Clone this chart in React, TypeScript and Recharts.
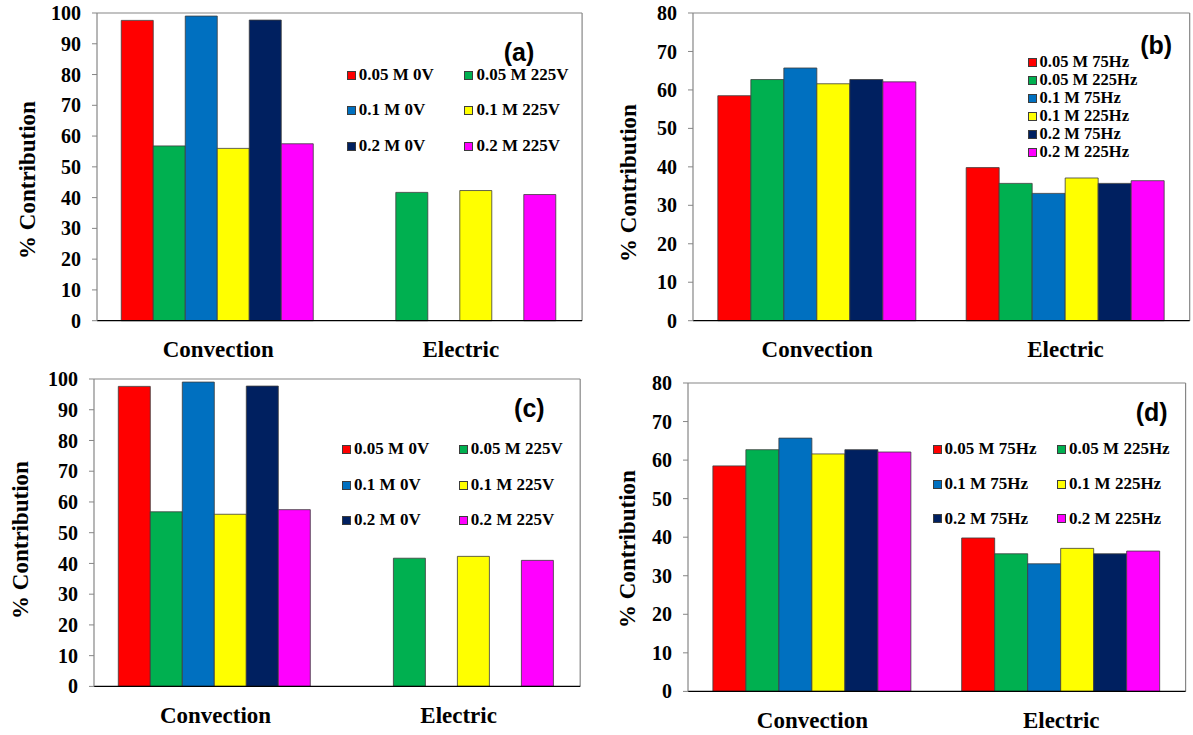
import React from "react";
import { BarChart, Bar, XAxis, YAxis, CartesianGrid } from "recharts";

// categories and series
const categories = ["Convection", "Electric"];
const voltageSeries = ["0.05 M 0V", "0.05 M 225V", "0.1 M 0V", "0.1 M 225V", "0.2 M 0V", "0.2 M 225V"];
const frequencySeries = ["0.05 M 75Hz", "0.05 M 225Hz", "0.1 M 75Hz", "0.1 M 225Hz", "0.2 M 75Hz", "0.2 M 225Hz"];
const seriesColors = ["#FF0000", "#00B050", "#0070C0", "#FFFF00", "#002060", "#FF00FF"];

// % contribution values (null = no bar)
const voltageConvection = [97.6, 56.8, 99.0, 56.0, 97.7, 57.5];
const voltageElectric = [null, 41.7, null, 42.3, null, 41.0];
const frequencyConvection = [58.5, 62.7, 65.7, 61.6, 62.7, 62.1];
const frequencyElectric = [39.8, 35.7, 33.1, 37.1, 35.7, 36.4];

const voltageTicks = [0, 10, 20, 30, 40, 50, 60, 70, 80, 90, 100];
const frequencyTicks = [0, 10, 20, 30, 40, 50, 60, 70, 80];

const SERIF = "'Liberation Serif', 'Times New Roman', serif";
const SANS = "'Liberation Sans', Arial, sans-serif";
const AXIS_GRAY = "#868686";

const buildRows = (conv: (number | null)[], elec: (number | null)[]) =>
  categories.map((category, ci) => {
    const row: Record<string, string | number | null> = { category };
    const values = ci === 0 ? conv : elec;
    values.forEach((v, i) => {
      row["s" + i] = v;
    });
    return row;
  });

type Panel = {
  tag: string;
  names: string[];
  rows: Record<string, string | number | null>[];
  ticks: number[];
  plot: { left: number; top: number; right: number; bottom: number };
  legendCols: number[];
  legendRows: number[];
  legendSize: number;
  tagPos: { x: number; y: number };
  titlePos: { x: number; y: number };
};

const panels: Panel[] = [
  {
    tag: "(a)",
    names: voltageSeries,
    rows: buildRows(voltageConvection, voltageElectric),
    ticks: voltageTicks,
    plot: { left: 96.7, top: 13.3, right: 581.8, bottom: 321 },
    legendCols: [346.7, 464.4],
    legendRows: [75, 110, 146],
    legendSize: 17,
    tagPos: { x: 503.8, y: 52 },
    titlePos: { x: 26.8, y: 180 },
  },
  {
    tag: "(b)",
    names: frequencySeries,
    rows: buildRows(frequencyConvection, frequencyElectric),
    ticks: frequencyTicks,
    plot: { left: 693.3, top: 13.3, right: 1190, bottom: 321 },
    legendCols: [1027.6],
    legendRows: [62, 80, 98, 116, 134, 152],
    legendSize: 16.5,
    tagPos: { x: 1140.2, y: 45 },
    titlePos: { x: 628.3, y: 182.5 },
  },
  {
    tag: "(c)",
    names: voltageSeries,
    rows: buildRows(voltageConvection, voltageElectric),
    ticks: voltageTicks,
    plot: { left: 93.7, top: 379.3, right: 579.9, bottom: 686.7 },
    legendCols: [342.1, 458.7],
    legendRows: [449.3, 485, 520.3],
    legendSize: 17,
    tagPos: { x: 514.1, y: 407.7 },
    titlePos: { x: 20.1, y: 540 },
  },
  {
    tag: "(d)",
    names: frequencySeries,
    rows: buildRows(frequencyConvection, frequencyElectric),
    ticks: frequencyTicks,
    plot: { left: 688, top: 383.3, right: 1185.6, bottom: 691.7 },
    legendCols: [932.5, 1057.1],
    legendRows: [449.3, 484, 518.7],
    legendSize: 17,
    tagPos: { x: 1135.7, y: 411.7 },
    titlePos: { x: 627.4, y: 549 },
  },
];

const Y_W = 60;
const M_TOP = 10;
const M_RIGHT = 4;
const X_H = 45;

const ChartPanel = ({ p }: { p: Panel }) => {
  const plotW = p.plot.right - p.plot.left;
  const plotH = p.plot.bottom - p.plot.top;
  const w = plotW + Y_W + M_RIGHT;
  const h = plotH + M_TOP + X_H;
  const max = p.ticks[p.ticks.length - 1];

  return (
    <>
      <div style={{ position: "absolute", left: p.plot.left - Y_W, top: p.plot.top - M_TOP }}>
        <BarChart
          width={w}
          height={h}
          data={p.rows}
          margin={{ top: M_TOP, right: M_RIGHT, bottom: 0, left: 0 }}
          barCategoryGap="10%"
          barGap={0}
        >
          {/* plot-area frame: top and right edges */}
          <CartesianGrid
            stroke={AXIS_GRAY}
            strokeWidth={1.2}
            horizontalCoordinatesGenerator={({ offset }: any) => [offset.top]}
            verticalCoordinatesGenerator={({ offset }: any) => [offset.left + offset.width]}
          />
          <XAxis
            dataKey="category"
            height={X_H}
            interval={0}
            tickLine={false}
            tickSize={0}
            tickMargin={20}
            axisLine={{ stroke: "#000", strokeWidth: 1.2 }}
            tick={{ fill: "#000", fontFamily: SERIF, fontWeight: "bold", fontSize: 23 }}
          />
          <YAxis
            width={Y_W}
            domain={[0, max]}
            ticks={p.ticks}
            interval={0}
            tickSize={5}
            tickMargin={11}
            axisLine={{ stroke: AXIS_GRAY, strokeWidth: 1.2 }}
            tickLine={{ stroke: AXIS_GRAY }}
            tick={{ fill: "#000", fontFamily: SERIF, fontWeight: "bold", fontSize: 20 }}
          />
          {/* inner half of the cross tick marks */}
          <YAxis
            yAxisId="inner"
            mirror
            domain={[0, max]}
            ticks={p.ticks}
            interval={0}
            tickSize={5}
            tick={false}
            axisLine={false}
            tickLine={{ stroke: AXIS_GRAY }}
          />
          {p.names.map((name, i) => (
            <Bar
              key={name}
              dataKey={"s" + i}
              name={name}
              fill={seriesColors[i]}
              stroke="#3c3c3c"
              strokeWidth={0.8}
              isAnimationActive={false}
            />
          ))}
        </BarChart>
      </div>

      {/* legend */}
      {p.names.map((name, i) => {
        const col = i % p.legendCols.length;
        const row = Math.floor(i / p.legendCols.length);
        return (
          <div
            key={name}
            style={{
              position: "absolute",
              left: p.legendCols[col],
              top: p.legendRows[row] - 9,
              height: 18,
              display: "flex",
              alignItems: "center",
              whiteSpace: "nowrap",
              fontFamily: SERIF,
              fontWeight: "bold",
              fontSize: p.legendSize,
              color: "#000",
            }}
          >
            <span
              style={{
                display: "inline-block",
                width: 9,
                height: 9,
                boxSizing: "border-box",
                background: seriesColors[i],
                border: "1px solid #3c3c3c",
                marginRight: 3,
              }}
            />
            {name}
          </div>
        );
      })}

      {/* panel tag */}
      <div
        style={{
          position: "absolute",
          left: p.tagPos.x,
          top: p.tagPos.y - 15,
          lineHeight: "30px",
          fontFamily: SANS,
          fontWeight: "bold",
          fontSize: 25,
          color: "#000",
        }}
      >
        {p.tag}
      </div>

      {/* y axis title */}
      <div
        style={{
          position: "absolute",
          left: p.titlePos.x,
          top: p.titlePos.y,
          transform: "translate(-50%, -50%) rotate(-90deg)",
          whiteSpace: "nowrap",
          lineHeight: 1,
          fontFamily: SERIF,
          fontWeight: "bold",
          fontSize: 23,
          color: "#000",
        }}
      >
        % Contribution
      </div>
    </>
  );
};

export default function App() {
  return (
    <div
      style={{
        position: "absolute",
        left: 0,
        top: 0,
        width: 1193,
        height: 735,
        background: "#fff",
        overflow: "hidden",
      }}
    >
      {panels.map((p) => (
        <ChartPanel key={p.tag} p={p} />
      ))}
    </div>
  );
}
